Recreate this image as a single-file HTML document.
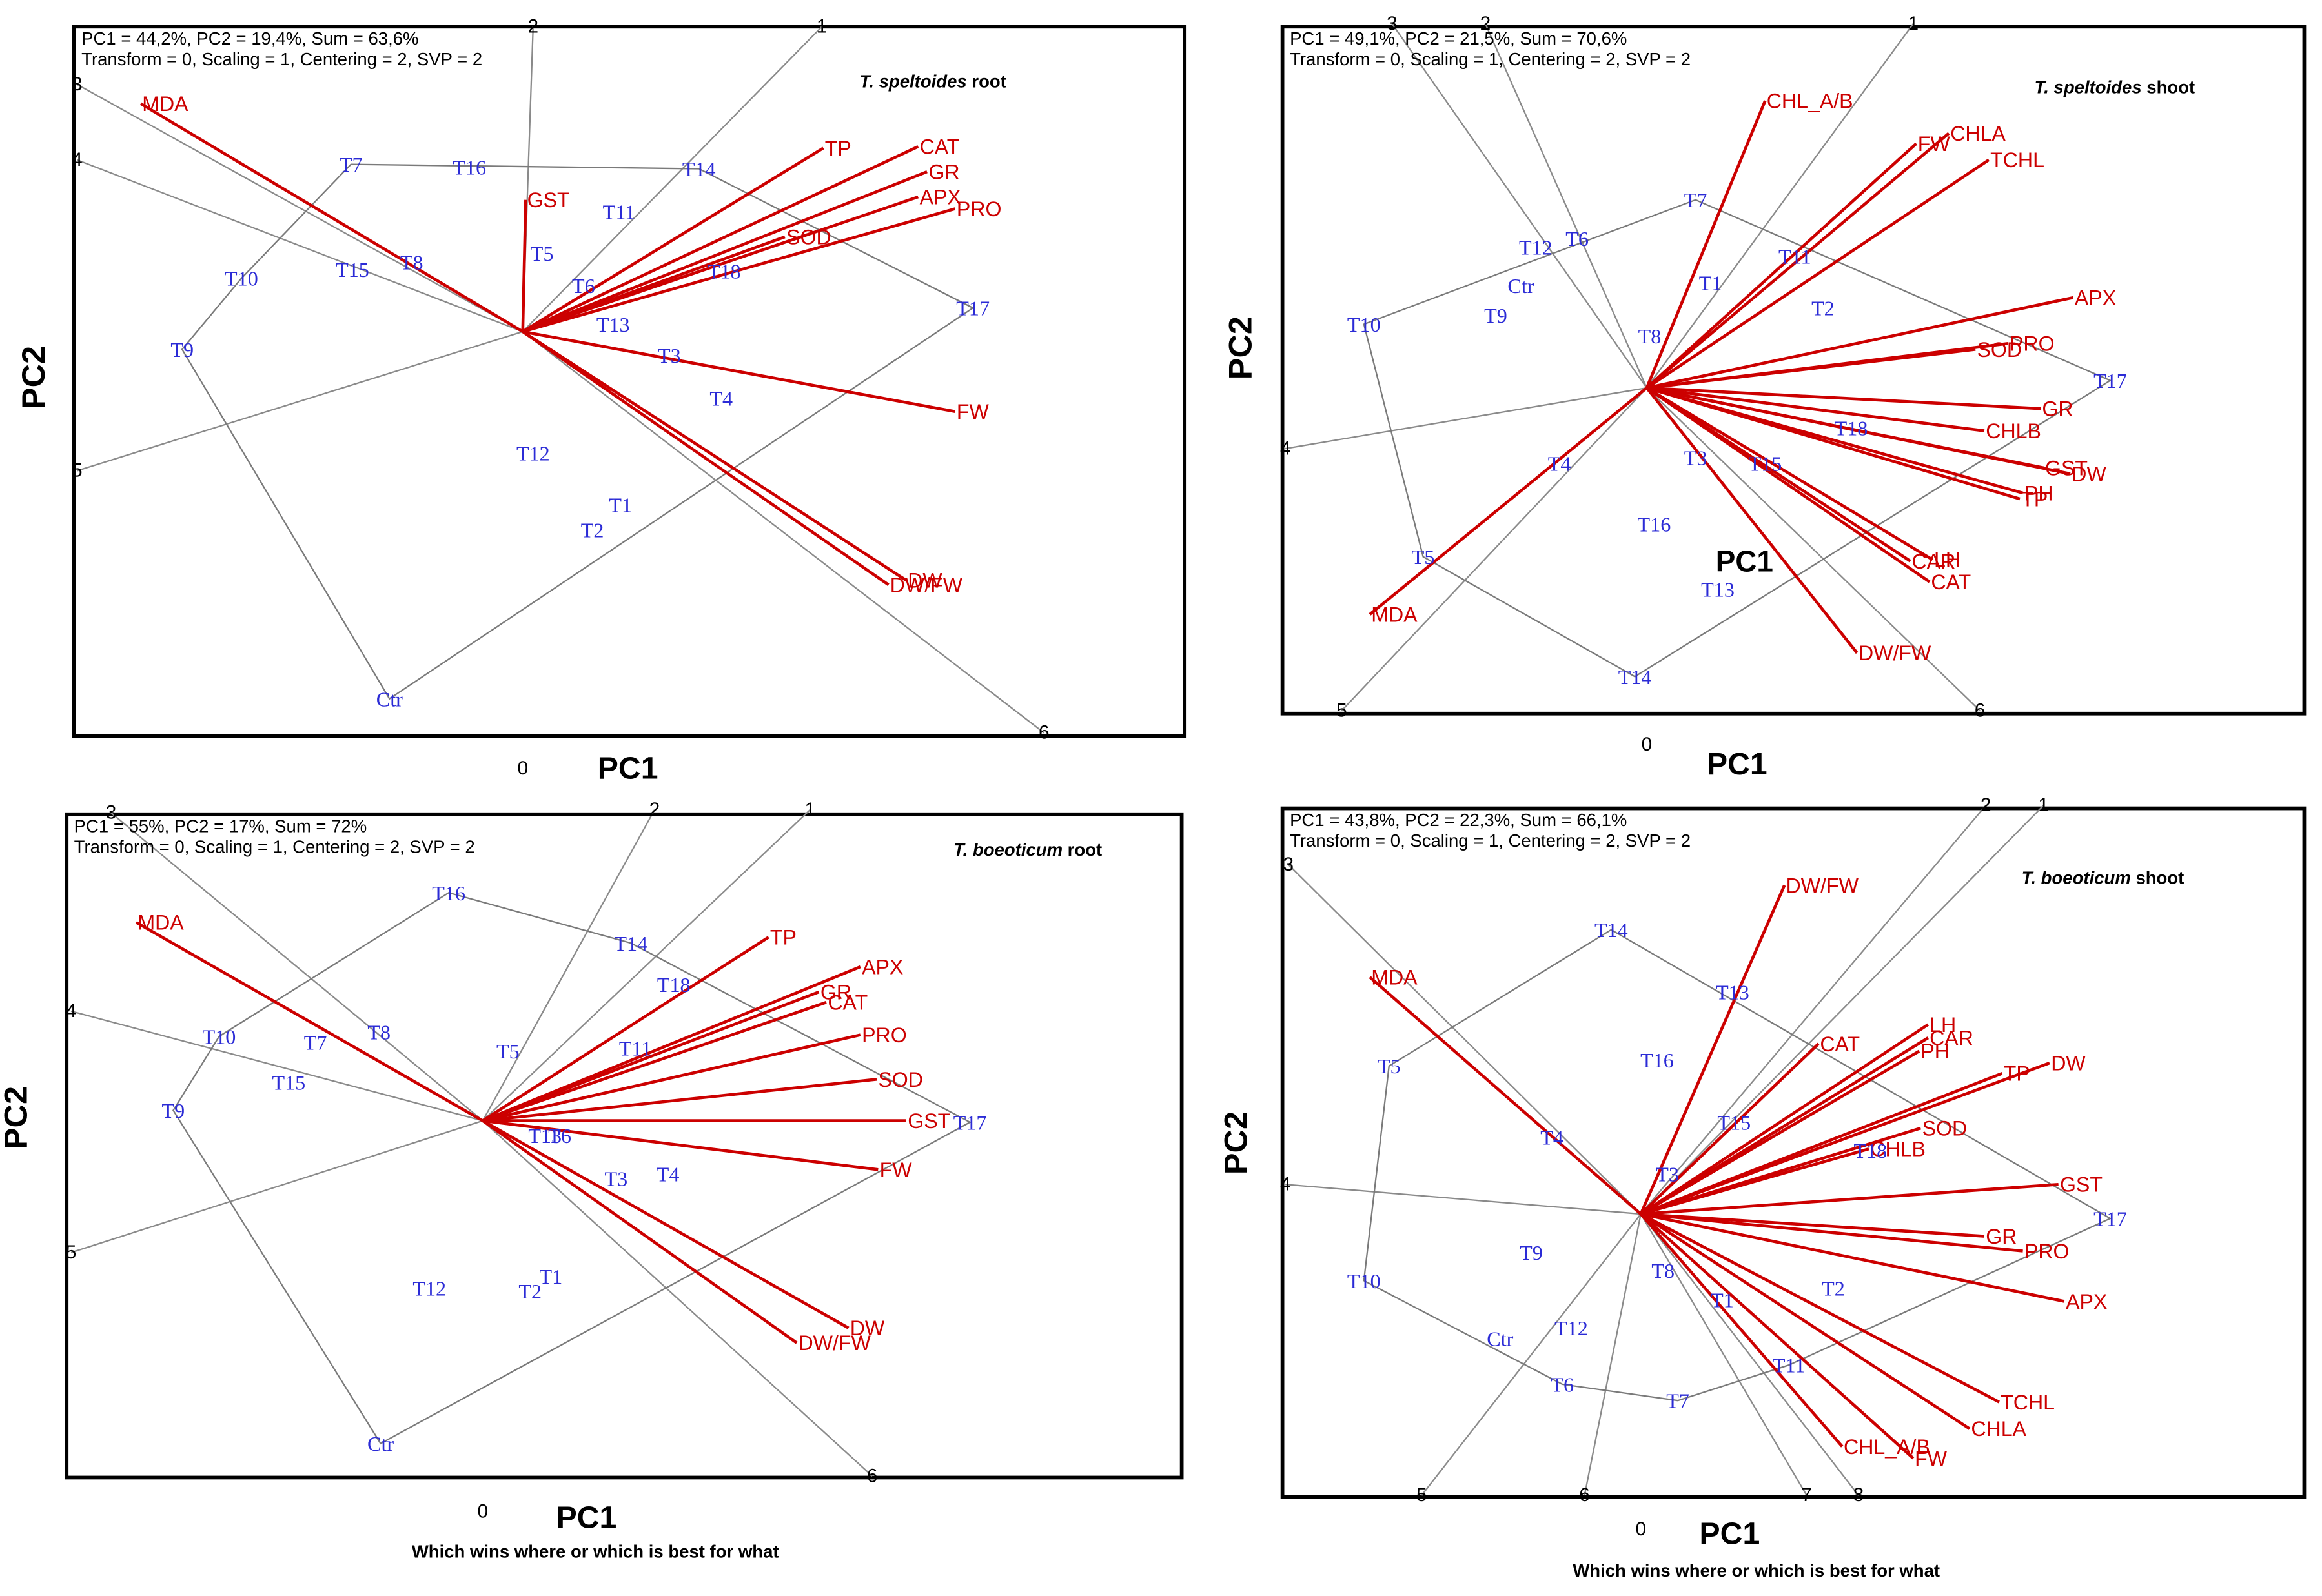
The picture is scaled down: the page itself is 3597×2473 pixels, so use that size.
<!DOCTYPE html>
<html><head><meta charset="utf-8"><style>
html,body{margin:0;padding:0;background:#fff;}
svg{display:block;}
</style></head><body>
<svg id="chart" width="3597" height="2473" viewBox="0 0 1568 1078" preserveAspectRatio="none" xmlns="http://www.w3.org/2000/svg"></svg>
<script>
// ===== Panel 1: T. speltoides root =====
const p1GenoNames=["T7","T16","T14","T11","T5","T6","T18","T13","T17","T3","T4","T10","T15","T8","T9","T12","T1","T2","Ctr"];
const p1GenoPC1=[-11.6,-3.6,11.9,6.5,1.3,4.1,13.6,6.1,30.4,9.9,13.4,-19.0,-11.5,-7.5,-23.0,0.7,6.6,4.7,-9.0];
const p1GenoPC2=[11.3,11.1,11.0,8.1,5.3,3.1,4.1,0.5,1.6,-1.6,-4.5,3.6,4.2,4.7,-1.2,-8.2,-11.7,-13.4,-24.8];
const p1Hull=["Ctr","T9","T10","T7","T14","T17"];
const p1TraitNames=["MDA","TP","CAT","GR","APX","PRO","SOD","GST","FW","DW/FW","DW"];
const p1TraitPC1=[-25.8,20.3,26.7,27.3,26.7,29.2,17.7,0.2,29.2,24.7,25.9];
const p1TraitPC2=[15.4,12.4,12.5,10.8,9.1,8.3,6.4,8.9,-5.4,-17.1,-16.8];
const p1RayNames=["1","2","3","4","5","6"];
const p1RayPC1=[20.2,0.7,-30.1,-30.1,-30.1,35.2];
const p1RayPC2=[20.6,20.6,16.7,11.6,-9.4,-27.1];

// ===== Panel 2: T. speltoides shoot =====
const p2GenoNames=["T7","T12","T6","Ctr","T9","T10","T11","T1","T2","T8","T17","T18","T3","T15","T4","T16","T5","T13","T14"];
const p2GenoPC1=[3.3,-7.5,-4.7,-8.5,-10.2,-19.1,10.0,4.3,11.9,0.2,31.3,13.8,3.3,8.0,-5.9,0.5,-15.1,4.8,-0.8];
const p2GenoPC2=[12.7,9.5,10.1,6.9,4.9,4.3,8.9,7.1,5.4,3.5,0.5,-2.7,-4.7,-5.1,-5.1,-9.2,-11.4,-13.6,-19.5];
const p2Hull=["T10","T7","T17","T14","T5"];
const p2TraitNames=["CHL_A/B","FW","CHLA","TCHL","APX","PRO","SOD","GR","CHLB","GST","DW","PH","TP","LH","CAR","CAT","DW/FW","MDA"];
const p2TraitPC1=[8.0,18.2,20.4,23.1,28.8,24.4,22.2,26.6,22.8,26.8,28.6,25.4,25.2,19.3,17.8,19.1,14.2,-18.7];
const p2TraitPC2=[19.4,16.5,17.2,15.4,6.1,3.0,2.6,-1.4,-2.9,-5.4,-5.8,-7.1,-7.5,-11.6,-11.7,-13.1,-17.9,-15.3];
const p2RayNames=["1","2","3","4","5","6"];
const p2RayPC1=[18.0,-10.9,-17.2,-24.4,-20.6,22.5];
const p2RayPC2=[24.6,24.6,24.6,-4.1,-21.8,-21.8];

// ===== Panel 3: T. boeoticum root =====
const p3GenoNames=["T16","T14","T18","T10","T7","T8","T5","T11","T15","T9","T17","T13","T6","T3","T4","T12","T1","T2","Ctr"];
const p3GenoPC1=[-2.3,10.0,12.9,-17.8,-11.3,-7.0,1.7,10.3,-13.1,-20.9,32.9,4.2,5.2,9.0,12.5,-3.6,4.6,3.2,-6.9];
const p3GenoPC2=[15.4,12.0,9.2,5.7,5.3,6.0,4.7,4.9,2.6,0.7,-0.1,-1.0,-1.0,-3.9,-3.6,-11.3,-10.5,-11.5,-21.8];
const p3Hull=["Ctr","T9","T10","T16","T14","T17"];
const p3TraitNames=["MDA","TP","APX","GR","CAT","PRO","SOD","GST","FW","DW","DW/FW"];
const p3TraitPC1=[-23.4,19.3,25.5,22.7,23.2,25.5,26.6,28.6,26.7,24.7,21.2];
const p3TraitPC2=[13.4,12.4,10.4,8.7,8.0,5.8,2.8,0.0,-3.3,-14.0,-15.0];
const p3RayNames=["1","2","3","4","5","6"];
const p3RayPC1=[22.1,11.6,-25.1,-27.8,-27.8,26.3];
const p3RayPC2=[21.0,21.0,20.8,7.4,-8.9,-24.0];

// ===== Panel 4: T. boeoticum shoot =====
const p4GenoNames=["T14","T13","T16","T5","T15","T4","T18","T3","T17","T9","T10","T8","T1","T2","T12","Ctr","T11","T6","T7"];
const p4GenoPC1=[-2.0,6.2,1.1,-17.0,6.3,-6.0,15.5,1.8,31.7,-7.4,-18.7,1.5,5.5,13.0,-4.7,-9.5,10.0,-5.3,2.5];
const p4GenoPC2=[19.2,15.0,10.4,10.0,6.2,5.2,4.3,2.7,-0.3,-2.6,-4.5,-3.8,-5.8,-5.0,-7.7,-8.4,-10.2,-11.5,-12.6];
const p4Hull=["T10","T5","T14","T17","T11","T7","T6"];
const p4TraitNames=["DW/FW","MDA","LH","CAR","PH","CAT","TP","DW","SOD","CHLB","GST","GR","PRO","APX","TCHL","CHLA","CHL_A/B","FW"];
const p4TraitPC1=[9.7,-18.3,19.4,19.4,18.8,12.0,24.4,27.6,18.9,15.4,28.2,23.2,25.8,28.6,24.2,22.2,13.6,18.4];
const p4TraitPC2=[22.2,16.0,12.8,11.9,11.0,11.5,9.5,10.2,5.8,4.4,2.0,-1.5,-2.5,-5.9,-12.7,-14.5,-15.7,-16.5];
const p4RayNames=["1","2","3","4","5","6","7","8"];
const p4RayPC1=[27.2,23.3,-23.8,-24.0,-14.8,-3.8,11.2,14.7];
const p4RayPC2=[27.6,27.6,23.6,2.0,-19.0,-19.0,-19.0,-19.0];

const NS="http://www.w3.org/2000/svg";
const svg=document.getElementById('chart');
function mk(tag,attrs,parent){const e=document.createElementNS(NS,tag);for(const k in attrs)e.setAttribute(k,attrs[k]);(parent||svg).appendChild(e);return e;}
function txt(s,attrs,parent){const e=mk('text',attrs,parent);e.textContent=s;return e;}

const panels=[
 {id:'p1',frame:[50,18,750,479],ox:353,oy:224,h1:"PC1 = 44,2%, PC2 = 19,4%, Sum = 63,6%",title:"T. speltoides root",tx:630,ty:59,
  pc2:[30,255],pc1:[424,526],zero:[353,523],g:[p1GenoNames,p1GenoPC1,p1GenoPC2],hull:p1Hull,t:[p1TraitNames,p1TraitPC1,p1TraitPC2],r:[p1RayNames,p1RayPC1,p1RayPC2]},
 {id:'p2',frame:[866,18,690,464],ox:1112,oy:262,h1:"PC1 = 49,1%, PC2 = 21,5%, Sum = 70,6%",title:"T. speltoides shoot",tx:1428,ty:63,
  pc2:[845,235],pc1:[1173,523],zero:[1112,507],g:[p2GenoNames,p2GenoPC1,p2GenoPC2],hull:p2Hull,t:[p2TraitNames,p2TraitPC1,p2TraitPC2],r:[p2RayNames,p2RayPC1,p2RayPC2],inner:[1178,386]},
 {id:'p3',frame:[45,550,753,448],ox:326,oy:757,h1:"PC1 = 55%, PC2 = 17%, Sum = 72%",title:"T. boeoticum root",tx:694,ty:578,
  pc2:[18,755],pc1:[396,1032],zero:[326,1025],g:[p3GenoNames,p3GenoPC1,p3GenoPC2],hull:p3Hull,t:[p3TraitNames,p3TraitPC1,p3TraitPC2],r:[p3RayNames,p3RayPC1,p3RayPC2],foot:[402,1052]},
 {id:'p4',frame:[866,546,690,465],ox:1108,oy:820,h1:"PC1 = 43,8%, PC2 = 22,3%, Sum = 66,1%",title:"T. boeoticum shoot",tx:1420,ty:597,
  pc2:[842,772],pc1:[1168,1043],zero:[1108,1037],g:[p4GenoNames,p4GenoPC1,p4GenoPC2],hull:p4Hull,t:[p4TraitNames,p4TraitPC1,p4TraitPC2],r:[p4RayNames,p4RayPC1,p4RayPC2],foot:[1186,1065]}
];
const U=10;
panels.forEach(P=>{
  const g=mk('g',{});
  
  
  const X=v=>P.ox+v*U, Y=v=>P.oy-v*U;
  const [fx,fy,fw,fh]=P.frame;
  const fr=mk('rect',{x:fx,y:fy,width:fw,height:fh,fill:'#fff',stroke:'#000','stroke-width':2.5},g);
  
  
  // rays
  P.r[0].forEach((n,i)=>{
    const l=mk('line',{x1:P.ox,y1:P.oy,x2:X(P.r[1][i]),y2:Y(P.r[2][i]),stroke:'#8a8a8a','stroke-width':1},g);
    
    
    const t=txt(n,{x:X(P.r[1][i]),y:Y(P.r[2][i])+4,'font-family':'Liberation Sans, sans-serif','font-size':13,'text-anchor':'middle',fill:'#000'},g);
    
    
  });
  // hull
  const idx=n=>P.g[0].indexOf(n);
  const pts=P.hull.map(n=>X(P.g[1][idx(n)])+','+Y(P.g[2][idx(n)])).join(' ');
  const hp=mk('polygon',{points:pts,fill:'none',stroke:'#7a7a7a','stroke-width':1},g);
  
  
  // traits
  P.t[0].forEach((n,i)=>{
    const x=X(P.t[1][i]),y=Y(P.t[2][i]);
    const l=mk('line',{x1:P.ox,y1:P.oy,x2:x,y2:y,stroke:'#cc0000','stroke-width':2},g);
    
    
    const t=txt(n,{x:x+1,y:y+5,'font-family':'Liberation Sans, sans-serif','font-size':14,fill:'#cc0000'},g);
    
    
  });
  // genotypes
  P.g[0].forEach((n,i)=>{
    const t=txt(n,{x:X(P.g[1][i]),y:Y(P.g[2][i])+5,'font-family':'Liberation Serif, serif','font-size':14,'text-anchor':'middle',fill:'#2b2bd6'},g);
    
    
  });
  // header
  const h1=txt(P.h1,{x:fx+5,y:fy+12,'font-family':'Liberation Sans, sans-serif','font-size':12,fill:'#000'},g);
  
  
  const h2=txt("Transform = 0, Scaling = 1, Centering = 2, SVP = 2",{x:fx+5,y:fy+26,'font-family':'Liberation Sans, sans-serif','font-size':12,fill:'#000'},g);
  
  
  const parts=P.title.split(' ');
  const tt=mk('text',{x:P.tx,y:P.ty,'font-family':'Liberation Sans, sans-serif','font-size':12,'font-weight':'bold','text-anchor':'middle',fill:'#000'},g);
  const ts1=mk('tspan',{'font-style':'italic'},tt);ts1.textContent=parts[0]+' '+parts[1]+' ';
  const ts2=mk('tspan',{},tt);ts2.textContent=parts[2];
  
  
  // axis titles
  const a2=txt('PC2',{x:P.pc2[0],y:P.pc2[1],'font-family':'Liberation Sans, sans-serif','font-size':22,'font-weight':'bold','text-anchor':'middle',transform:'rotate(-90 '+P.pc2[0]+' '+P.pc2[1]+')'},g);
  
  
  const a1=txt('PC1',{x:P.pc1[0],y:P.pc1[1],'font-family':'Liberation Sans, sans-serif','font-size':21,'font-weight':'bold','text-anchor':'middle'},g);
  
  
  const z=txt('0',{x:P.zero[0],y:P.zero[1],'font-family':'Liberation Sans, sans-serif','font-size':13,'text-anchor':'middle'},g);
  
  
  if(P.inner){
    const ip=txt('PC1',{x:P.inner[0],y:P.inner[1],'font-family':'Liberation Sans, sans-serif','font-size':20,'font-weight':'bold','text-anchor':'middle'},g);
    
    
  }
  if(P.foot){
    const f=txt('Which wins where or which is best for what',{x:P.foot[0],y:P.foot[1],'font-family':'Liberation Sans, sans-serif','font-size':12,'font-weight':'bold','text-anchor':'middle'},g);
    
    
  }
});
</script>
</body></html>
